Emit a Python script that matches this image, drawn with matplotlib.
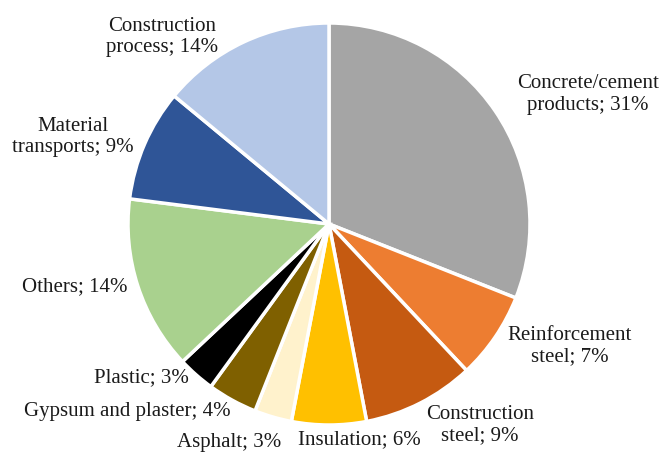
import matplotlib
matplotlib.use("Agg")
import matplotlib.pyplot as plt

categories = [
    "Concrete/cement\nproducts", "Reinforcement\nsteel", "Construction\nsteel",
    "Insulation", "Asphalt", "Gypsum and plaster", "Plastic", "Others",
    "Material\ntransports", "Construction\nprocess",
]
shares = [31, 7, 9, 6, 3, 4, 3, 14, 9, 14]
colors = [
    "#A5A5A5", "#ED7D31", "#C55A11", "#FFC000", "#FFF2CC",
    "#7F6000", "#000000", "#A9D18E", "#2F5597", "#B4C7E7",
]

# label anchor points (in units of pie radius) and alignments
label_pos = [
    (1.289, 0.645, "center"), (1.199, -0.607, "center"), (0.751, -1.0, "center"),
    (0.149, -1.075, "center"), (-0.498, -1.085, "center"), (-1.005, -0.935, "center"),
    (-0.935, -0.766, "center"), (-1.0, -0.313, "right"), (-1.274, 0.433, "center"),
    (-0.831, 0.93, "center"),
]

plt.rcParams["font.family"] = ["Liberation Serif", "DejaVu Serif"]

W, H, DPI = 662, 453, 100
cx, cy, r = 329, 224, 201
fig = plt.figure(figsize=(W / DPI, H / DPI), dpi=DPI)
ax = fig.add_axes([0, 0, 1, 1])

ax.pie(shares, colors=colors, startangle=90, counterclock=False, radius=1.0,
       wedgeprops=dict(edgecolor="white", linewidth=2.5))

ax.set_xlim(-cx / r, (W - cx) / r)
ax.set_ylim((cy - H) / r, cy / r)
ax.set_aspect("equal")
ax.axis("off")

for cat, val, (x, y, ha) in zip(categories, shares, label_pos):
    ax.text(x, y, f"{cat}; {val}%", ha=ha, va="center", fontsize=15,
            color="#1a1a1a", linespacing=1.2)

fig.savefig("out.png", dpi=DPI)
